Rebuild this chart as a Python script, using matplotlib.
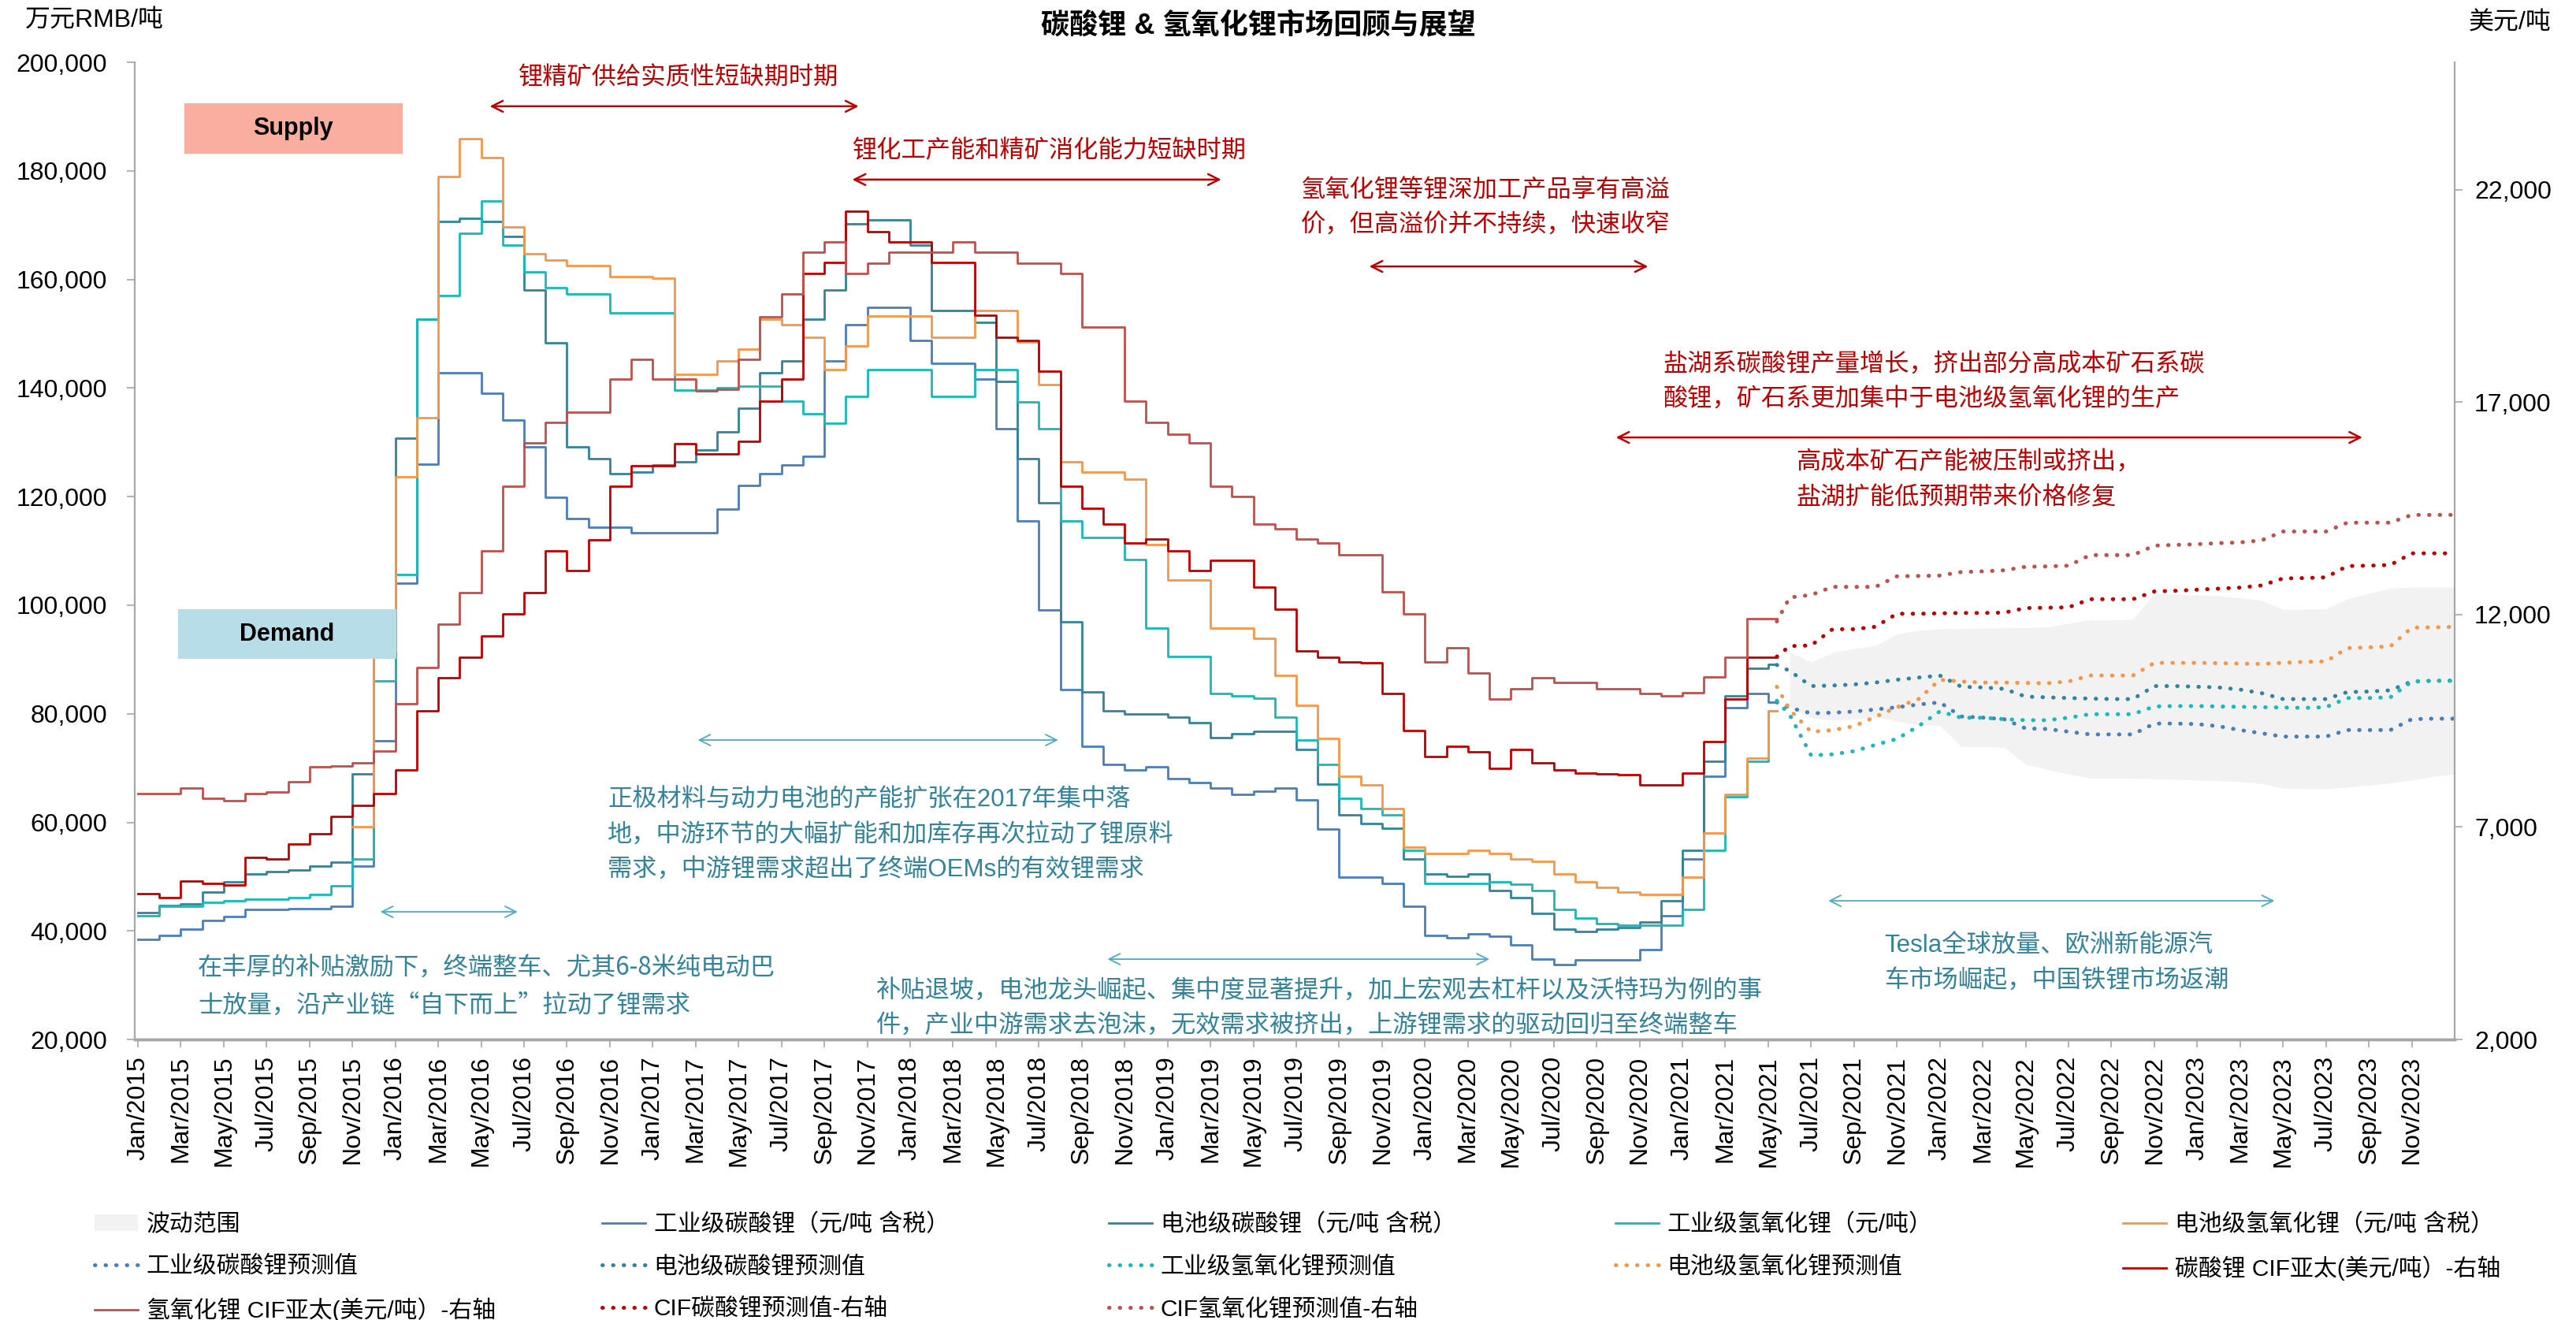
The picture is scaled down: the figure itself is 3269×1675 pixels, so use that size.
import matplotlib
matplotlib.use('Agg')
import matplotlib.pyplot as plt
from matplotlib.patches import Rectangle, Patch
from matplotlib.ticker import FuncFormatter
import numpy as np

plt.rcParams['font.family'] = ['Liberation Sans', 'Noto Sans CJK SC']

# x is a month index: 0 = Jan/2015. history runs to mid May 2021, forecast to end of 2023
hist_months = np.arange(77)
hist_end = 76.4
fc_months = [76.4] + list(range(77, 109))
band_months = list(range(77, 109))

tick_month_names = ['Jan', 'Mar', 'May', 'Jul', 'Sep', 'Nov']
tick_years = [2015, 2016, 2017, 2018, 2019, 2020, 2021, 2022, 2023]

# 元/吨 (left axis)
ind_li2co3 = [38500, 39200, 40400, 42000, 42600, 43900, 43900, 44100, 44100, 44500,
              52000, 75000, 104000, 126000, 142800, 142800, 139000, 134100, 129200, 119900,
              116000, 114400, 114400, 113300, 113300, 113300, 113300, 117700, 122100, 124300,
              125900, 127500, 145000, 151600, 154900, 154900, 148800, 144500, 144500, 141700,
              132500, 115500, 99100, 84400, 74000, 70700, 69600, 70200, 68000, 67400,
              66300, 65200, 65800, 66300, 64100, 58700, 49900, 49900, 48800, 44500,
              39200, 38700, 39500, 39000, 37400, 34800, 33800, 34600, 34600, 34600,
              36500, 42800, 53200, 68500, 81100, 83800, 82200]
batt_li2co3 = [43400, 44700, 45000, 47200, 49100, 50500, 51000, 51200, 51900, 52700,
               69000, 99100, 130800, 152700, 170700, 171300, 170700, 168000, 158100, 148300,
               129200, 127000, 124300, 124500, 125900, 126400, 128600, 131900, 136300, 142800,
               145000, 152700, 158100, 170200, 171000, 171000, 166300, 154300, 154300, 152100,
               141200, 127000, 118800, 96900, 84000, 80500, 80000, 80000, 79400, 78300,
               75600, 76400, 76700, 76700, 73400, 67000, 61400, 59800, 58900, 53200,
               50500, 50100, 50500, 47500, 46100, 43200, 40400, 39900, 40400, 40600,
               41700, 45600, 54900, 71200, 83300, 88400, 89100]
ind_lioh = [42800, 44500, 44500, 45300, 45600, 45900, 45900, 46100, 46700, 48300,
            53200, 86000, 105700, 152700, 157000, 168500, 174500, 166300, 161400, 158500,
            157400, 157400, 153800, 153800, 153800, 139600, 139600, 140100, 140400, 140400,
            137600, 135200, 133500, 138500, 143400, 143400, 143400, 138500, 138500, 143400,
            143400, 137400, 132500, 115500, 112500, 112500, 108400, 95800, 90600, 90600,
            83800, 83300, 82900, 79400, 75100, 70700, 64500, 62500, 61400, 54900,
            48800, 48800, 48800, 49100, 48600, 47400, 43900, 42300, 41400, 41100,
            41000, 41000, 43900, 54900, 64700, 71200, 80500]
batt_lioh = [np.nan] * 10 + [
             59200, 91500, 123700, 134600, 178900, 186000, 182400, 169600, 164700, 163600,
             162500, 162500, 160500, 160500, 160300, 142500, 142500, 145000, 147200, 152700,
             151600, 149400, 143400, 147800, 153200, 153200, 153200, 149400, 149400, 154300,
             154300, 148500, 140600, 126400, 124500, 124500, 123200, 111100, 104600, 104600,
             95800, 95800, 93900, 87100, 81600, 75500, 68500, 66900, 62500, 55400,
             54300, 54300, 54900, 54300, 53200, 52800, 50500, 49100, 48000, 47200,
             46700, 46700, 49900, 58100, 65200, 71800, 80500]

# 美元/吨 (right axis)
carb_cif = [5430, 5333, 5725, 5683, 5641, 6285, 6243, 6593, 6845, 7251,
            7503, 7783, 8343, 9743, 10513, 11003, 11493, 12011, 12515, 13495,
            13033, 13761, 15021, 15511, 15511, 16015, 15791, 15791, 16071, 17023,
            17541, 20033, 20285, 21503, 21013, 20775, 20775, 20285, 20285, 19053,
            18535, 18451, 17723, 15021, 14503, 14139, 13691, 13775, 13495, 13033,
            13271, 13271, 12641, 12123, 11143, 11003, 10891, 10863, 10135, 9281,
            8651, 8903, 8763, 8385, 8833, 8511, 8343, 8273, 8260, 8231,
            7993, 7993, 8273, 9015, 10023, 11003, 11003]
hyd_cif = [7783, 7783, 7923, 7671, 7615, 7783, 7825, 8063, 8413, 8440,
           8511, 8791, 9911, 10751, 11773, 12515, 13495, 15021, 16043, 16519,
           16771, 16771, 17541, 18003, 17541, 17541, 17275, 17303, 18003, 19011,
           19543, 20523, 20775, 20033, 20271, 20523, 20523, 20523, 20775, 20523,
           20523, 20271, 20271, 20033, 18773, 18773, 17023, 16519, 16253, 16043,
           15021, 14783, 14139, 14013, 13775, 13691, 13411, 13411, 12543, 12011,
           10891, 11213, 10625, 10023, 10261, 10513, 10401, 10401, 10261, 10261,
           10135, 10093, 10163, 10541, 11003, 11913, 11913]

# forecasts
ind_li2co3_fc = [82100, 81100, 80100, 80200, 80400, 80800, 81200, 81700, 82100, 79500, 79300,
                 79000, 77300, 77200, 76700, 76200, 76200, 76200, 78200, 78200, 78100, 77700,
                 77000, 76400, 75800, 75800, 75800, 77000, 77000, 77000, 79000, 79100, 79100]
batt_li2co3_fc = [89000, 87900, 85100, 85200, 85400, 85750, 86270, 86660, 87050, 84980, 84850,
                  84590, 83160, 83030, 82900, 82800, 82710, 82710, 85100, 85100, 84980, 84850,
                  84460, 83800, 82710, 82710, 82710, 84000, 84100, 84320, 85950, 86080, 86080]
ind_lioh_fc = [82400, 79800, 72340, 72530, 73110, 74280, 75380, 77710, 80440, 79270, 79270,
               79010, 78820, 78820, 79270, 79920, 79920, 79920, 81350, 81420, 81420, 81350,
               81280, 81210, 81150, 81090, 81210, 82900, 82900, 83030, 85950, 86080, 86080]
batt_lioh_fc = [84980, 80760, 76680, 77000, 77710, 79460, 81210, 82710, 86270, 85950, 85750,
                85750, 85690, 85620, 85950, 87050, 87050, 87050, 89380, 89380, 89380, 89320,
                89250, 89190, 89380, 89570, 89640, 92100, 92230, 92420, 95860, 95930, 96000]
carb_cif_fc = [11010, 11260, 11275, 11657, 11657, 11715, 12022, 12022, 12030, 12039, 12039,
               12047, 12155, 12163, 12172, 12363, 12363, 12363, 12546, 12562, 12587, 12612,
               12637, 12687, 12853, 12861, 12878, 13144, 13152, 13169, 13443, 13443, 13443]
hyd_cif_fc = [11840, 12405, 12463, 12654, 12654, 12654, 12903, 12911, 12920, 13003, 13019,
              13044, 13127, 13135, 13152, 13401, 13401, 13401, 13625, 13642, 13658, 13683,
              13700, 13750, 13957, 13957, 13957, 14165, 14165, 14165, 14348, 14348, 14348]
band_upper = [91450, 89500, 91300, 92000, 92560, 94700, 95350, 95670, 95700, 95760, 95820,
              95900, 96000, 96640, 97280, 97280, 97400, 102150, 102020, 101890, 101700, 101370,
              100850, 99230, 99230, 99360, 101170, 102150, 103120, 103310, 103310, 103310]
band_lower = [81090, 79270, 78820, 79010, 79400, 78620, 77970, 77850, 73960, 73960, 73830,
              70720, 69750, 68900, 68130, 68130, 68130, 68000, 67930, 67800, 67670, 67480,
              67150, 66310, 66180, 66180, 66500, 66830, 67280, 67800, 68450, 68900]

c_ind = '#4A7EBB'
c_batt = '#31849B'
c_ioh = '#17B9B9'
c_boh = '#F79646'
c_ccif = '#C00000'
c_hcif = '#C0504D'
c_red = '#C00000'
c_blue_txt = '#31849B'
c_blue_arrow = '#4BACC6'
FS = 22.5

fig = plt.figure(figsize=(32.69, 16.75), dpi=100)
ax = fig.add_axes([0.0523, 0.2125, 0.9006, 0.7403])
ax2 = ax.twinx()


def hist_line(a, vals, color):
    x = np.append(hist_months, hist_end)
    y = np.append(np.array(vals, dtype=float), vals[-1])
    return a.plot(x, y, drawstyle='steps-post', color=color, lw=2.0)[0]


def fc_line(a, vals, color):
    return a.plot(fc_months, vals, color=color, lw=3.6, linestyle=(0, (0.1, 2.6)),
                  dash_capstyle='round')[0]


ax.fill_between(band_months, band_lower, band_upper, color='#F2F2F2', lw=0, zorder=0.5)
band_handle = Patch(facecolor='#F2F2F2', edgecolor='none')

l_ind = hist_line(ax, ind_li2co3, c_ind)
l_batt = hist_line(ax, batt_li2co3, c_batt)
l_ioh = hist_line(ax, ind_lioh, c_ioh)
l_boh = hist_line(ax, batt_lioh, c_boh)
f_ind = fc_line(ax, ind_li2co3_fc, c_ind)
f_batt = fc_line(ax, batt_li2co3_fc, c_batt)
f_ioh = fc_line(ax, ind_lioh_fc, c_ioh)
f_boh = fc_line(ax, batt_lioh_fc, c_boh)

l_ccif = hist_line(ax2, carb_cif, c_ccif)
l_hcif = hist_line(ax2, hyd_cif, c_hcif)
f_ccif = fc_line(ax2, carb_cif_fc, c_ccif)
f_hcif = fc_line(ax2, hyd_cif_fc, c_hcif)

# axes
ax.set_xlim(-0.15, 108)
ax.set_ylim(20000, 200000)
ax2.set_ylim(2000, 25000)
ax.set_yticks(np.arange(20000, 200001, 20000))
ax2.set_yticks([2000, 7000, 12000, 17000, 22000])
fmt = FuncFormatter(lambda v, p: f'{v:,.0f}')
ax.yaxis.set_major_formatter(fmt)
ax2.yaxis.set_major_formatter(fmt)

tick_labels = [f'{mn}/{yr}' for yr in tick_years for mn in tick_month_names]
ax.set_xticks(np.arange(0, 2 * len(tick_labels), 2))
ax.set_xticklabels(tick_labels, rotation=90, fontsize=23)

for a in (ax, ax2):
    a.spines['top'].set_visible(False)
    for s in ('left', 'right'):
        a.spines[s].set_color('#A6A6A6')
        a.spines[s].set_linewidth(1.5)
    a.spines['bottom'].set_color('#A6A6A6')
    a.spines['bottom'].set_linewidth(2.5)
ax.tick_params(axis='y', labelsize=23, length=7, width=1.2, color='#A6A6A6', pad=18)
ax2.tick_params(axis='y', labelsize=23, length=7, width=1.2, color='#A6A6A6', pad=11)
ax.tick_params(axis='x', length=7, width=1.2, color='#A6A6A6', pad=8)

# titles
fig.text(1597 / 3269, 1 - 33 / 1675, '碳酸锂 & 氢氧化锂市场回顾与展望', ha='center', va='center',
         fontsize=26, fontweight='bold')
fig.text(32 / 3269, 1 - 27 / 1675, '万元RMB/吨', ha='left', va='center', fontsize=23)
fig.text(3133 / 3269, 1 - 30 / 1675, '美元/吨', ha='left', va='center', fontsize=23)

# annotations (drawn on ax2 so they stay on top, placed in left-axis data coords)
T = ax.transData


def note(x, y, s, color, ha='left', family=None):
    kw = {} if family is None else {'family': family}
    ax2.text(x, y, s, transform=T, color=color, fontsize=FS, ha=ha, va='center',
             linespacing=1.62, zorder=10, **kw)


def span(x1, x2, y, color, lw):
    ax2.annotate('', xy=(x2, y), xytext=(x1, y), xycoords=T, textcoords=T,
                 arrowprops=dict(arrowstyle='<->,head_length=1.0,head_width=0.5',
                                 color=color, lw=lw, shrinkA=0, shrinkB=0), zorder=10)


note(25.2, 197000, '锂精矿供给实质性短缺期时期', c_red, ha='center')
span(16.4, 33.6, 191900, c_red, 1.8)
note(42.5, 183600, '锂化工产能和精矿消化能力短缺时期', c_red, ha='center')
span(33.3, 50.5, 178400, c_red, 1.8)
note(54.2, 173150, '氢氧化锂等锂深加工产品享有高溢\n价，但高溢价并不持续，快速收窄', c_red)
span(57.4, 70.4, 162400, c_red, 1.8)
note(71.1, 140990, '盐湖系碳酸锂产量增长，挤出部分高成本矿石系碳\n酸锂，矿石系更加集中于电池级氢氧化锂的生产', c_red)
span(68.9, 103.7, 130900, c_red, 1.8)
note(77.3, 122920, '高成本矿石产能被压制或挤出，\n盐湖扩能低预期带来价格修复', c_red)

note(2.8, 29730, '在丰厚的补贴激励下，终端整车、尤其6-8米纯电动巴\n士放量，沿产业链“自下而上”拉动了锂需求', c_blue_txt,
     family=['Noto Sans CJK SC', 'Liberation Sans'])
span(11.3, 17.7, 43520, c_blue_arrow, 1.3)
note(21.9, 57600, '正极材料与动力电池的产能扩张在2017年集中落\n地，中游环节的大幅扩能和加库存再次拉动了锂原料\n需求，中游锂需求超出了终端OEMs的有效锂需求', c_blue_txt)
span(26.1, 42.9, 75160, c_blue_arrow, 1.3)
note(34.4, 25590, '补贴退坡，电池龙头崛起、集中度显著提升，加上宏观去杠杆以及沃特玛为例的事\n件，产业中游需求去泡沫，无效需求被挤出，上游锂需求的驱动回归至终端整车', c_blue_txt)
span(45.2, 63.0, 34800, c_blue_arrow, 1.3)
note(81.4, 33930, 'Tesla全球放量、欧洲新能源汽\n车市场崛起，中国铁锂市场返潮', c_blue_txt)
span(78.8, 99.6, 45550, c_blue_arrow, 1.3)

# supply / demand boxes
ax2.add_patch(Rectangle((2.17, 183160), 10.17, 9290, transform=T, facecolor='#F9AE9F',
                        edgecolor='none', zorder=11))
ax2.text(7.25, 187800, 'Supply', transform=T, ha='center', va='center', fontsize=22,
         fontweight='bold', zorder=12)
ax2.add_patch(Rectangle((1.87, 90110), 10.18, 9150, transform=T, facecolor='#B7DEE8',
                        edgecolor='none', zorder=11))
ax2.text(6.96, 94690, 'Demand', transform=T, ha='center', va='center', fontsize=22,
         fontweight='bold', zorder=12)

# legend: 5 columns laid out like the original, one legend per column
columns = [
    [(band_handle, '波动范围'), (f_ind, '工业级碳酸锂预测值'), (l_hcif, '氢氧化锂 CIF亚太(美元/吨）-右轴')],
    [(l_ind, '工业级碳酸锂（元/吨 含税）'), (f_batt, '电池级碳酸锂预测值'), (f_ccif, 'CIF碳酸锂预测值-右轴')],
    [(l_batt, '电池级碳酸锂（元/吨 含税）'), (f_ioh, '工业级氢氧化锂预测值'), (f_hcif, 'CIF氢氧化锂预测值-右轴')],
    [(l_ioh, '工业级氢氧化锂（元/吨）'), (f_boh, '电池级氢氧化锂预测值')],
    [(l_boh, '电池级氢氧化锂（元/吨 含税）'), (l_ccif, '碳酸锂 CIF亚太(美元/吨）-右轴')],
]
col_x = [120, 764, 1407, 2050, 2694]
for cx, items in zip(col_x, columns):
    fig.legend([h for h, _ in items], [t for _, t in items], loc='upper left',
               bbox_to_anchor=(cx / 3269, 1 - 1540 / 1675), frameon=False, fontsize=21.5,
               borderpad=0, borderaxespad=0, handlelength=1.85, handletextpad=0.35,
               labelspacing=0.85)

fig.savefig('out.png', dpi=100)
